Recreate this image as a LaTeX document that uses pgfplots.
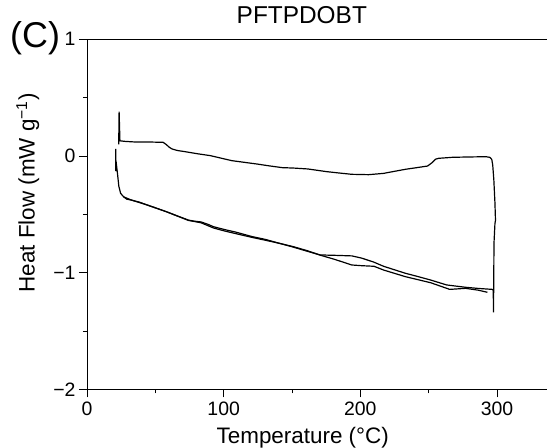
\documentclass[border=0pt]{standalone}
\usepackage{fontspec}
\setmainfont{Liberation Sans}
\usepackage{pgfplots}
\pgfplotsset{compat=1.18}
\begin{document}
\begin{tikzpicture}
\begin{axis}[
  scale only axis, width=460bp, height=350.1bp,
  xmin=0, xmax=336.6, ymin=-2, ymax=1,
  axis x line*=bottom, axis y line*=left,
  axis line style={-, line width=0.8pt},
  clip=false,
  tick align=outside, major tick length=8bp, minor tick length=4bp,
  every tick/.style={line width=0.8pt, black},
  xtick={0,100,200,300}, minor xtick={50,150,250},
  ytick={-2,-1,0,1}, yticklabels={−2,−1,0,1}, minor ytick={-1.5,-0.5,0.5},
  ticklabel style={font=\fontsize{19.5}{21}\selectfont},
  xticklabel style={yshift=-1.5bp},
  /pgf/number format/assume math mode=true,
  xlabel={\fontsize{22.5}{24}\selectfont Temperature (°C)},
  xlabel style={at={(axis description cs:0.469,0)}, anchor=base, yshift=-54bp},
  ylabel={\fontsize{22.5}{24}\selectfont Heat Flow (mW g\textsuperscript{−1})},
  ylabel style={at={(axis description cs:-0.114,0.561)}, anchor=base},
  title={\fontsize{24.5}{26}\selectfont PFTPDOBT},
  title style={anchor=base, at={(axis description cs:0.467,1)}, yshift=10bp},
]
\addplot[black, line width=1.2pt] coordinates {
(21.0,0.06) (21.0,-0.13) (21.6,-0.08) (22.3,-0.15) (23.3,-0.26) (24.6,-0.32) (26.8,-0.35) (29.1,-0.37)
(32.6,-0.378) (38.2,-0.395) (44.1,-0.42) (50.2,-0.445) (58.0,-0.477) (65.3,-0.51) (74.2,-0.549)
(78.4,-0.558) (83.4,-0.565) (88.4,-0.585) (92.6,-0.606) (100.5,-0.63) (108.8,-0.652) (120.6,-0.69)
(130.6,-0.715) (140.7,-0.748) (150.7,-0.78) (160.8,-0.815) (170.7,-0.848) (180.9,-0.851) (193.8,-0.856)
(201,-0.875) (210,-0.91) (217,-0.945) (233,-1.005) (241.2,-1.03) (251.5,-1.063) (263.2,-1.105)
(277,-1.125) (286.4,-1.135) (296.6,-1.143) (297.3,-1.15) (297.4,-1.34) (297.6,-1.13) (297.8,-0.75)
(298.5,-0.58) (298.9,-0.55) (298.5,-0.4) (297.7,-0.206) (296.9,-0.08) (296.2,-0.03) (294.9,-0.012)
(292,-0.006) (281.4,-0.008) (267.7,-0.011) (257.2,-0.02) (255,-0.028) (252.2,-0.06) (249.2,-0.086)
(241.2,-0.1) (233,-0.114) (221,-0.14) (217,-0.149) (206,-0.16) (193.8,-0.157) (183.9,-0.145)
(175.3,-0.134) (161.5,-0.111) (150.7,-0.103) (143,-0.1) (133.6,-0.085) (124.5,-0.069) (115.6,-0.055)
(106,-0.04) (100.5,-0.025) (90.3,0.003) (80.4,0.02) (70.3,0.04) (67.2,0.045) (64.9,0.051) (62.3,0.06)
(60.3,0.074) (57.8,0.1) (55.7,0.117) (45.2,0.12) (35.2,0.12) (28.1,0.125) (24.1,0.13) (23.5,0.38) (23.2,0.1)
};
\addplot[black, line width=1.2pt] coordinates {
(26.8,-0.35) (32.6,-0.378) (44.1,-0.42) (58.0,-0.477) (74.2,-0.552) (83.4,-0.572) (92.6,-0.617)
(100.5,-0.642) (108.8,-0.665) (120.6,-0.697) (130.6,-0.722) (140.7,-0.748) (150.7,-0.776) (160.8,-0.81)
(170.7,-0.85) (181,-0.885) (193.8,-0.934) (201,-0.94) (210,-0.945) (217,-0.977) (233,-1.034)
(251.5,-1.086) (265.4,-1.143) (277,-1.134) (286.4,-1.15) (293,-1.168)
};
\draw[line width=0.8pt] (rel axis cs:0,1) -- (rel axis cs:1,1);
\coordinate (bl) at (rel axis cs:0,0);
\coordinate (tr) at (rel axis cs:1,1);
\coordinate (tl) at (rel axis cs:0,1);
\end{axis}
\node[anchor=base west, font=\fontsize{36}{38}\selectfont, inner sep=0pt] at ([shift={(-77bp,-8bp)}]tl) {(C)};
\pgfresetboundingbox
\path[use as bounding box] ([shift={(-87bp,-58.6bp)}]bl) rectangle ([shift={(0bp,39.3bp)}]tr);
\end{tikzpicture}
\end{document}
